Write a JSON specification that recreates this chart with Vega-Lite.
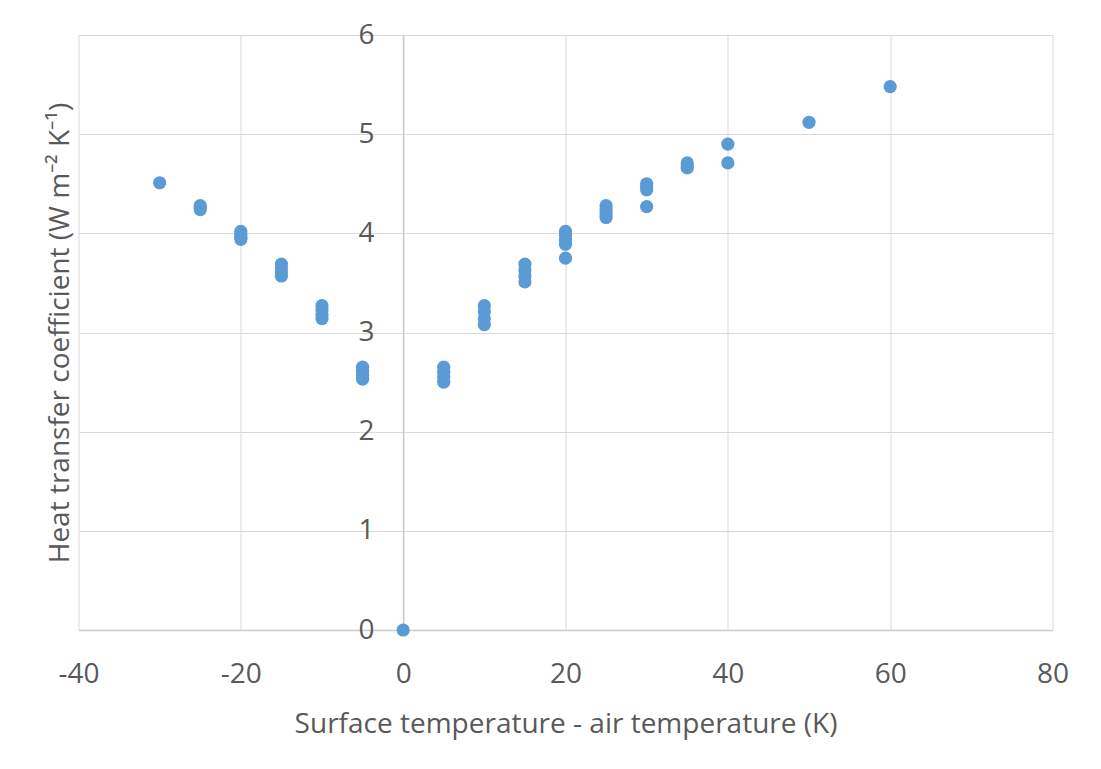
{
  "$schema": "https://vega.github.io/schema/vega-lite/v6.json",
  "width": 974,
  "height": 595,
  "autosize": "none",
  "padding": {"left": 78.5, "top": 35, "right": 48.5, "bottom": 139},
  "background": "white",
  "config": {
    "view": {"stroke": null},
    "font": "Open Sans",
    "axis": {
      "labelFont": "Open Sans",
      "titleFont": "Open Sans",
      "labelColor": "#595959",
      "titleColor": "#595959",
      "titleFontWeight": "normal",
      "gridColor": "#d9d9d9",
      "gridWidth": 1,
      "domainColor": "#cccccc",
      "domainWidth": 1.3,
      "ticks": false,
      "tickSize": 0
    }
  },
  "data": {
    "values": [
      {"dT": -30, "h": 4.51},
      {"dT": -25, "h": 4.28}, {"dT": -25, "h": 4.26}, {"dT": -25, "h": 4.24},
      {"dT": -20, "h": 4.02}, {"dT": -20, "h": 3.99}, {"dT": -20, "h": 3.96}, {"dT": -20, "h": 3.94},
      {"dT": -15, "h": 3.69}, {"dT": -15, "h": 3.65}, {"dT": -15, "h": 3.61}, {"dT": -15, "h": 3.57},
      {"dT": -10, "h": 3.27}, {"dT": -10, "h": 3.23}, {"dT": -10, "h": 3.18}, {"dT": -10, "h": 3.14},
      {"dT": -5, "h": 2.65}, {"dT": -5, "h": 2.61}, {"dT": -5, "h": 2.57}, {"dT": -5, "h": 2.53},
      {"dT": 0, "h": 0},
      {"dT": 5, "h": 2.65}, {"dT": 5, "h": 2.6}, {"dT": 5, "h": 2.55}, {"dT": 5, "h": 2.5},
      {"dT": 10, "h": 3.27}, {"dT": 10, "h": 3.21}, {"dT": 10, "h": 3.14}, {"dT": 10, "h": 3.08},
      {"dT": 15, "h": 3.69}, {"dT": 15, "h": 3.63}, {"dT": 15, "h": 3.57}, {"dT": 15, "h": 3.51},
      {"dT": 20, "h": 4.02}, {"dT": 20, "h": 3.98}, {"dT": 20, "h": 3.93}, {"dT": 20, "h": 3.89}, {"dT": 20, "h": 3.75},
      {"dT": 25, "h": 4.28}, {"dT": 25, "h": 4.24}, {"dT": 25, "h": 4.2}, {"dT": 25, "h": 4.16},
      {"dT": 30, "h": 4.5}, {"dT": 30, "h": 4.47}, {"dT": 30, "h": 4.44}, {"dT": 30, "h": 4.27},
      {"dT": 35, "h": 4.71}, {"dT": 35, "h": 4.68}, {"dT": 35, "h": 4.66},
      {"dT": 40, "h": 4.9}, {"dT": 40, "h": 4.71},
      {"dT": 50, "h": 5.12},
      {"dT": 60, "h": 5.48}
    ]
  },
  "mark": {"type": "circle", "size": 175, "color": "#5b9bd5", "opacity": 1},
  "encoding": {
    "x": {
      "field": "dT",
      "type": "quantitative",
      "scale": {"domain": [-40, 80], "nice": false, "zero": false},
      "axis": {
        "values": [-40, -20, 0, 20, 40, 60, 80],
        "labelExpr": "datum.value + ''",
        "title": "Surface temperature - air temperature (K)",
        "labelFontSize": 28,
        "titleFontSize": 28,
        "labelBaseline": "alphabetic",
        "labelPadding": 52,
        "titleBaseline": "alphabetic",
        "titleY": 102,
        "titleX": 487,
        "titleAlign": "center",
        "labelFlush": false,
        "labelOverlap": false
      }
    },
    "y": {
      "field": "h",
      "type": "quantitative",
      "scale": {"domain": [0, 6], "nice": false},
      "axis": {
        "values": [0, 1, 2, 3, 4, 5, 6],
        "labelExpr": "datum.value + ''",
        "title": "Heat transfer coefficient (W m⁻² K⁻¹)",
        "offset": -324.5,
        "labelFontSize": 28,
        "titleFontSize": 28,
        "labelPadding": 29,
        "labelBaseline": "middle",
        "labelFlush": false,
        "labelOverlap": false,
        "titleAngle": 270,
        "titleAlign": "center",
        "titleBaseline": "middle",
        "titleX": -343,
        "titleY": 297.5
      }
    }
  }
}
